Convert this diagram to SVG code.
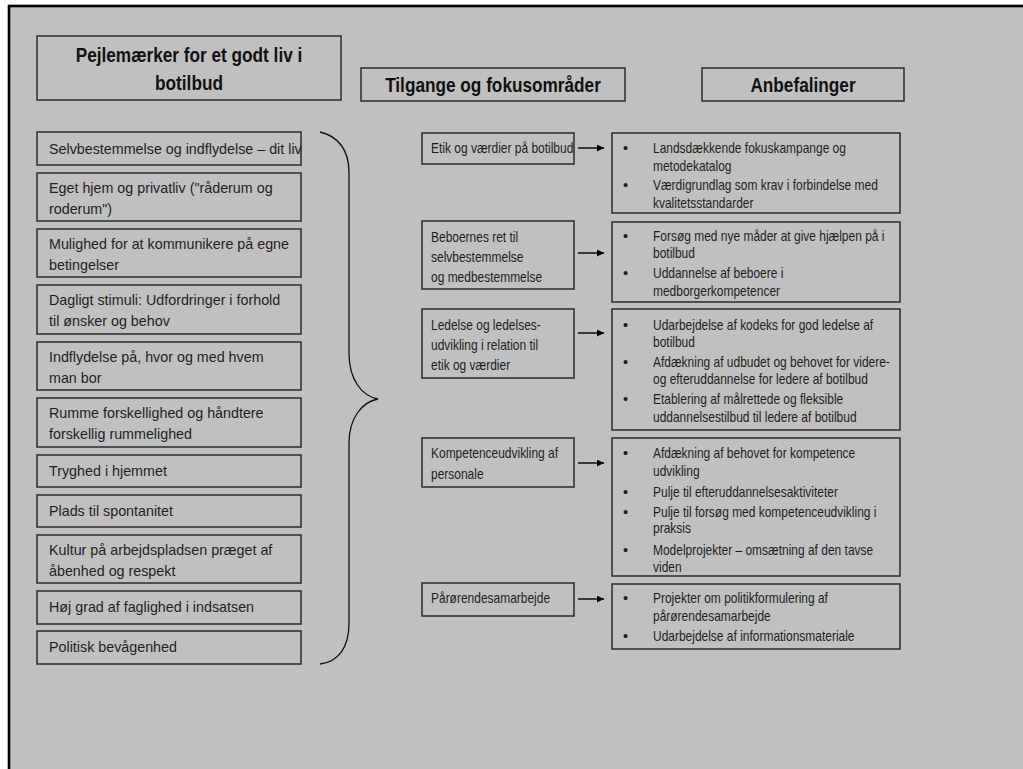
<svg xmlns="http://www.w3.org/2000/svg" width="1023" height="769" viewBox="0 0 1023 769">
<defs>
<style>
.box{fill:none;stroke:#2a2a2a;stroke-width:1.5}
.hd{font-family:"Liberation Sans",Arial,sans-serif;font-weight:bold;font-size:21px;fill:#111;text-anchor:middle}
.lt{font-family:"Liberation Sans",Arial,sans-serif;font-size:14.3px;fill:#1e1e1e}
.nt{font-family:"Liberation Sans",Arial,sans-serif;font-size:14.6px;fill:#1e1e1e}
.conn{stroke:#000;stroke-width:1.4;fill:none;marker-end:url(#ah)}
</style>
<marker id="ah" viewBox="0 0 10 10" refX="10" refY="5" markerWidth="8" markerHeight="7" markerUnits="userSpaceOnUse" orient="auto">
<path d="M0,0 L10,5 L0,10 z" fill="#000"/>
</marker>
</defs>
<rect x="9" y="6" width="1040" height="790" fill="#C0C0C0" stroke="#000" stroke-width="2.6"/>

<g id="header-pejlemaerker">
<rect class="box" x="37" y="36" width="304" height="64"/>
<text class="hd" transform="translate(189,62) scale(0.82,1)">Pejlemærker for et godt liv i</text>
<text class="hd" transform="translate(189,90) scale(0.82,1)">botilbud</text>
</g>
<g id="header-tilgange">
<rect class="box" x="361" y="68" width="264" height="33"/>
<text class="hd" transform="translate(493,92) scale(0.82,1)">Tilgange og fokusområder</text>
</g>
<g id="header-anbefalinger">
<rect class="box" x="702" y="68" width="202" height="33"/>
<text class="hd" transform="translate(803,92) scale(0.82,1)">Anbefalinger</text>
</g>

<g id="left-1"><rect class="box" x="37" y="132" width="264" height="33"/><text class="lt" x="49" y="154">Selvbestemmelse og indflydelse – dit liv</text></g>
<g id="left-2"><rect class="box" x="37" y="173" width="264" height="48"/><text class="lt" x="49" y="193">Eget hjem og privatliv ("råderum og</text><text class="lt" x="49" y="214">roderum")</text></g>
<g id="left-3"><rect class="box" x="37" y="229" width="264" height="48"/><text class="lt" x="49" y="249">Mulighed for at kommunikere på egne</text><text class="lt" x="49" y="270">betingelser</text></g>
<g id="left-4"><rect class="box" x="37" y="285" width="264" height="49"/><text class="lt" x="49" y="305">Dagligt stimuli: Udfordringer i forhold</text><text class="lt" x="49" y="326">til ønsker og behov</text></g>
<g id="left-5"><rect class="box" x="37" y="342" width="264" height="48"/><text class="lt" x="49" y="362">Indflydelse på, hvor og med hvem</text><text class="lt" x="49" y="383">man bor</text></g>
<g id="left-6"><rect class="box" x="37" y="398" width="264" height="49"/><text class="lt" x="49" y="418">Rumme forskellighed og håndtere</text><text class="lt" x="49" y="439">forskellig rummelighed</text></g>
<g id="left-7"><rect class="box" x="37" y="455" width="264" height="32"/><text class="lt" x="49" y="476">Tryghed i hjemmet</text></g>
<g id="left-8"><rect class="box" x="37" y="495" width="264" height="32"/><text class="lt" x="49" y="516">Plads til spontanitet</text></g>
<g id="left-9"><rect class="box" x="37" y="535" width="264" height="48"/><text class="lt" x="49" y="555">Kultur på arbejdspladsen præget af</text><text class="lt" x="49" y="576">åbenhed og respekt</text></g>
<g id="left-10"><rect class="box" x="37" y="591" width="264" height="33"/><text class="lt" x="49" y="612">Høj grad af faglighed i indsatsen</text></g>
<g id="left-11"><rect class="box" x="37" y="631" width="264" height="33"/><text class="lt" x="49" y="652">Politisk bevågenhed</text></g>

<g id="brace">
<path d="M320,132 C338,136 349,150 349,172 L349,353 C349,380 362,396 378,399 C362,402 349,418 349,443 L349,623 C349,648 338,662 320,664" fill="none" stroke="#111" stroke-width="1.3"/>
</g>

<g id="mid-1"><rect class="box" x="422" y="133" width="152" height="31"/><text class="nt" transform="translate(431,153) scale(0.82,1)">Etik og værdier på botilbud</text></g>
<g id="mid-2"><rect class="box" x="422" y="221" width="152" height="68"/><text class="nt" transform="translate(431,242) scale(0.82,1)">Beboernes ret til</text><text class="nt" transform="translate(431,262) scale(0.82,1)">selvbestemmelse</text><text class="nt" transform="translate(431,282) scale(0.82,1)">og medbestemmelse</text></g>
<g id="mid-3"><rect class="box" x="422" y="309" width="152" height="69"/><text class="nt" transform="translate(431,330) scale(0.82,1)">Ledelse og ledelses-</text><text class="nt" transform="translate(431,350) scale(0.82,1)">udvikling i relation til</text><text class="nt" transform="translate(431,370) scale(0.82,1)">etik og værdier</text></g>
<g id="mid-4"><rect class="box" x="422" y="438" width="152" height="49"/><text class="nt" transform="translate(431,458) scale(0.82,1)">Kompetenceudvikling af</text><text class="nt" transform="translate(431,479) scale(0.82,1)">personale</text></g>
<g id="mid-5"><rect class="box" x="422" y="583" width="152" height="33"/><text class="nt" transform="translate(431,603) scale(0.82,1)">Pårørendesamarbejde</text></g>

<g id="connectors">
<line class="conn" x1="578" y1="148" x2="604" y2="148"/>
<line class="conn" x1="578" y1="253" x2="604" y2="253"/>
<line class="conn" x1="578" y1="333" x2="604" y2="333"/>
<line class="conn" x1="578" y1="463" x2="604" y2="463"/>
<line class="conn" x1="578" y1="599" x2="604" y2="599"/>
</g>

<g id="right-1"><rect class="box" x="612" y="133" width="288" height="80"/>
<text class="nt" x="623" y="153">•</text><text class="nt" transform="translate(653,153) scale(0.82,1)">Landsdækkende fokuskampange og</text><text class="nt" transform="translate(653,171) scale(0.82,1)">metodekatalog</text>
<text class="nt" x="623" y="190">•</text><text class="nt" transform="translate(653,190) scale(0.82,1)">Værdigrundlag som krav i forbindelse med</text><text class="nt" transform="translate(653,208) scale(0.82,1)">kvalitetsstandarder</text></g>
<g id="right-2"><rect class="box" x="612" y="222" width="288" height="80"/>
<text class="nt" x="623" y="241">•</text><text class="nt" transform="translate(653,241) scale(0.82,1)">Forsøg med nye måder at give hjælpen på i</text><text class="nt" transform="translate(653,258) scale(0.82,1)">botilbud</text>
<text class="nt" x="623" y="278">•</text><text class="nt" transform="translate(653,278) scale(0.82,1)">Uddannelse af beboere i</text><text class="nt" transform="translate(653,296) scale(0.82,1)">medborgerkompetencer</text></g>
<g id="right-3"><rect class="box" x="612" y="309" width="288" height="121"/>
<text class="nt" x="623" y="330">•</text><text class="nt" transform="translate(653,330) scale(0.82,1)">Udarbejdelse af kodeks for god ledelse af</text><text class="nt" transform="translate(653,347) scale(0.82,1)">botilbud</text>
<text class="nt" x="623" y="367">•</text><text class="nt" transform="translate(653,367) scale(0.82,1)">Afdækning af udbudet og behovet for videre-</text><text class="nt" transform="translate(653,384) scale(0.82,1)">og efteruddannelse for ledere af botilbud</text>
<text class="nt" x="623" y="404">•</text><text class="nt" transform="translate(653,404) scale(0.82,1)">Etablering af målrettede og fleksible</text><text class="nt" transform="translate(653,422) scale(0.82,1)">uddannelsestilbud til ledere af botilbud</text></g>
<g id="right-4"><rect class="box" x="612" y="438" width="288" height="138"/>
<text class="nt" x="623" y="458">•</text><text class="nt" transform="translate(653,458) scale(0.82,1)">Afdækning af behovet for kompetence</text><text class="nt" transform="translate(653,476) scale(0.82,1)">udvikling</text>
<text class="nt" x="623" y="497">•</text><text class="nt" transform="translate(653,497) scale(0.82,1)">Pulje til efteruddannelsesaktiviteter</text>
<text class="nt" x="623" y="517">•</text><text class="nt" transform="translate(653,517) scale(0.82,1)">Pulje til forsøg med kompetenceudvikling i</text><text class="nt" transform="translate(653,533) scale(0.82,1)">praksis</text>
<text class="nt" x="623" y="555">•</text><text class="nt" transform="translate(653,555) scale(0.82,1)">Modelprojekter – omsætning af den tavse</text><text class="nt" transform="translate(653,572) scale(0.82,1)">viden</text></g>
<g id="right-5"><rect class="box" x="612" y="584" width="288" height="65"/>
<text class="nt" x="623" y="603">•</text><text class="nt" transform="translate(653,603) scale(0.82,1)">Projekter om politikformulering af</text><text class="nt" transform="translate(653,621) scale(0.82,1)">pårørendesamarbejde</text>
<text class="nt" x="623" y="641">•</text><text class="nt" transform="translate(653,641) scale(0.82,1)">Udarbejdelse af informationsmateriale</text></g>
</svg>
